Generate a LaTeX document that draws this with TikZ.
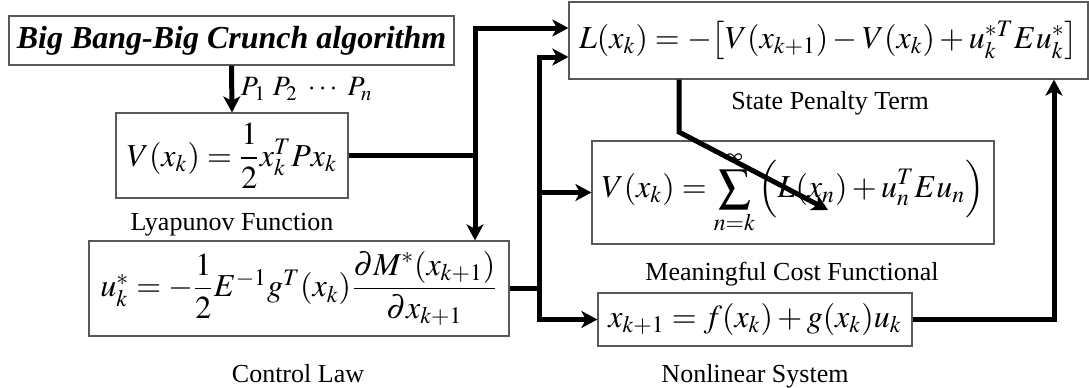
\documentclass[tikz,border=0pt]{standalone}
\usepackage{amsmath}
\usepackage{mathptmx}
\usepackage[no-math]{fontspec}
\setmainfont{Liberation Serif}
\usetikzlibrary{arrows.meta,positioning,calc}
\tikzset{
  % thin framed boxes holding the formulas
  eqbox/.style={draw=black!65, line width=0.6pt, fill=white, inner sep=0pt,
    font=\fontsize{16}{19}\selectfont},
  algbox/.style={eqbox, font=\fontsize{16}{19}\selectfont\bfseries\itshape},
  % captions under the boxes
  capt/.style={inner sep=0pt, font=\fontsize{13}{15}\selectfont},
  % heavy signal lines
  flow/.style={-{Stealth[length=8pt,width=8.5pt,inset=2.2pt]}, line width=2.5pt},
}

\begin{document}
\begin{tikzpicture}[x=0.5pt,y=0.5pt]
    \useasboundingbox (0,0) rectangle (1089,387);
    % optimiser that tunes P
    \node[algbox, minimum width=222.5pt, minimum height=24.5pt] (bbbc) at (231.5,346.5)
      {Big Bang-Big Crunch algorithm};
    % left column
    \node[eqbox, minimum width=116pt, minimum height=42.5pt] (lyap) at (232,231.5)
      {$V(x_k)=\dfrac{1}{2}x_k^TPx_k$};
    \node[capt] (lyapcap) at (232,162) {Lyapunov Function};
    \node[eqbox, minimum width=210pt, minimum height=47.5pt] (ctrl) at (299,98.5)
      {$u_k^*=-\dfrac{1}{2}E^{-1}g^T(x_k)\dfrac{\partial M^*(x_{k+1})}{\partial x_{k+1}}$};
    \node[capt] (ctrlcap) at (298,13) {Control Law};
    % right column
    \node[eqbox, minimum width=259.5pt, minimum height=38.5pt] (state) at (828.5,346.5)
      {$L(x_k)=-\big[V(x_{k+1})-V(x_k)+u_k^{*T}Eu_k^*\big]$};
    \node[capt] (statecap) at (830,284) {State Penalty Term};
    \node[eqbox, minimum width=201pt, minimum height=51.5pt] (cost) at (793,194.5)
      {$V(x_k)=\displaystyle\sum_{n=k}^{\infty}\Big(L(x_n)+u_n^TEu_n\Big)$};
    \node[capt] (costcap) at (792,113) {Meaningful Cost Functional};
    \node[eqbox, minimum width=157pt, minimum height=26.5pt] (nonlin) at (755,67.5)
      {$x_{k+1}=f(x_k)+g(x_k)u_k$};
    \node[capt] (nonlincap) at (755,11) {Nonlinear System};
    % bus points
    \coordinate (busA) at (475,231.5);
    \coordinate (busB) at (539,98.5);
    \coordinate (ret) at (1054,67.5);
    \coordinate (kink) at (679,255);
    \coordinate (tip) at (828,177);
    % P from the optimiser
    \draw[flow] (bbbc.south) -- (lyap.north)
      node[midway, right, font=\fontsize{14}{16}\selectfont] {$P_1\ P_2\ \cdots\ P_n$};
    % V feeds the penalty and the control law
    \draw[flow] (lyap.east) -- (busA) |- ($(state.west)+(0,12.5)$);
    \draw[flow] (busA) -- (busA |- ctrl.north);
    % u feeds the penalty, the cost and the plant
    \draw[flow] (ctrl.east) -- (busB) |- ($(state.west)+(0,-16.5)$);
    \draw[flow] (busB) |- (nonlin.west);
    \draw[flow] (busB |- cost.west) -- (cost.west);
    % x back into the penalty
    \draw[flow] (nonlin.east) -- (ret) -- (ret |- state.south);
    % penalty into the cost
    \draw[flow] (kink |- state.south) -- (kink) -- (tip);
\end{tikzpicture}
\end{document}
